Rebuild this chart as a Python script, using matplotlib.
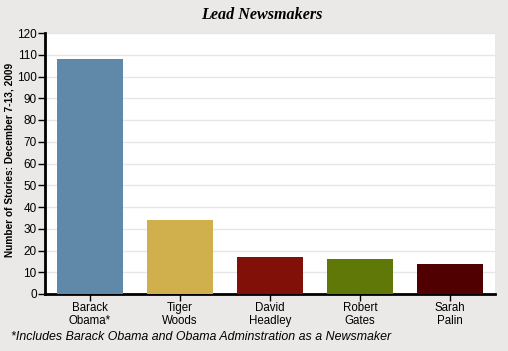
import matplotlib
matplotlib.use("Agg")
import matplotlib.pyplot as plt

categories = ["Barack\nObama*", "Tiger\nWoods", "David\nHeadley", "Robert\nGates", "Sarah\nPalin"]
values = [108, 34, 17, 16, 14]
colors = ["#6088a8", "#d0b04c", "#801008", "#607808", "#500000"]
yticks = list(range(0, 121, 10))

plt.rcParams['font.family'] = ['Liberation Sans', 'DejaVu Sans']
bg = "#ebe9e7"
fig = plt.figure(figsize=(5.08, 3.51), dpi=100, facecolor=bg)
ax = fig.add_axes([45/508, 1-294/351, 450/508, 261/351])
ax.set_facecolor("white")
x = list(range(len(categories)))
ax.bar(x, values, width=0.744, color=colors, zorder=3)
ax.set_xlim(-0.5, 4.5)
ax.set_ylim(0, 120)
ax.set_yticks(yticks)
ax.set_yticklabels([str(v) for v in yticks], fontsize=8.5)
ax.set_xticks(x)
ax.set_xticklabels(categories, fontsize=8.3, linespacing=1.05)
ax.yaxis.grid(True, color="#e6e6e6", linewidth=1, zorder=0)
for s in ["top", "right"]:
    ax.spines[s].set_visible(False)
for s in ["left", "bottom"]:
    ax.spines[s].set_linewidth(2)
    ax.spines[s].set_color("black")
ax.tick_params(axis="y", length=5, width=1, pad=1)
ax.tick_params(axis="x", length=5, width=1, pad=1)
fig.text(10/508, 1-160/351, "Number of Stories: December 7-13, 2009", rotation=90,
         ha="center", va="center", fontsize=7.3, fontweight="bold")
fig.text(262/508, 1-15/351, "Lead Newsmakers", ha="center", va="center",
         fontsize=11.6, fontweight="bold", fontstyle="italic", family="Liberation Serif")
fig.text(11/508, 1-337/351, "*Includes Barack Obama and Obama Adminstration as a Newsmaker",
         ha="left", va="center", fontsize=8.9, fontstyle="italic")
fig.savefig("out.png", dpi=100, facecolor=bg)
